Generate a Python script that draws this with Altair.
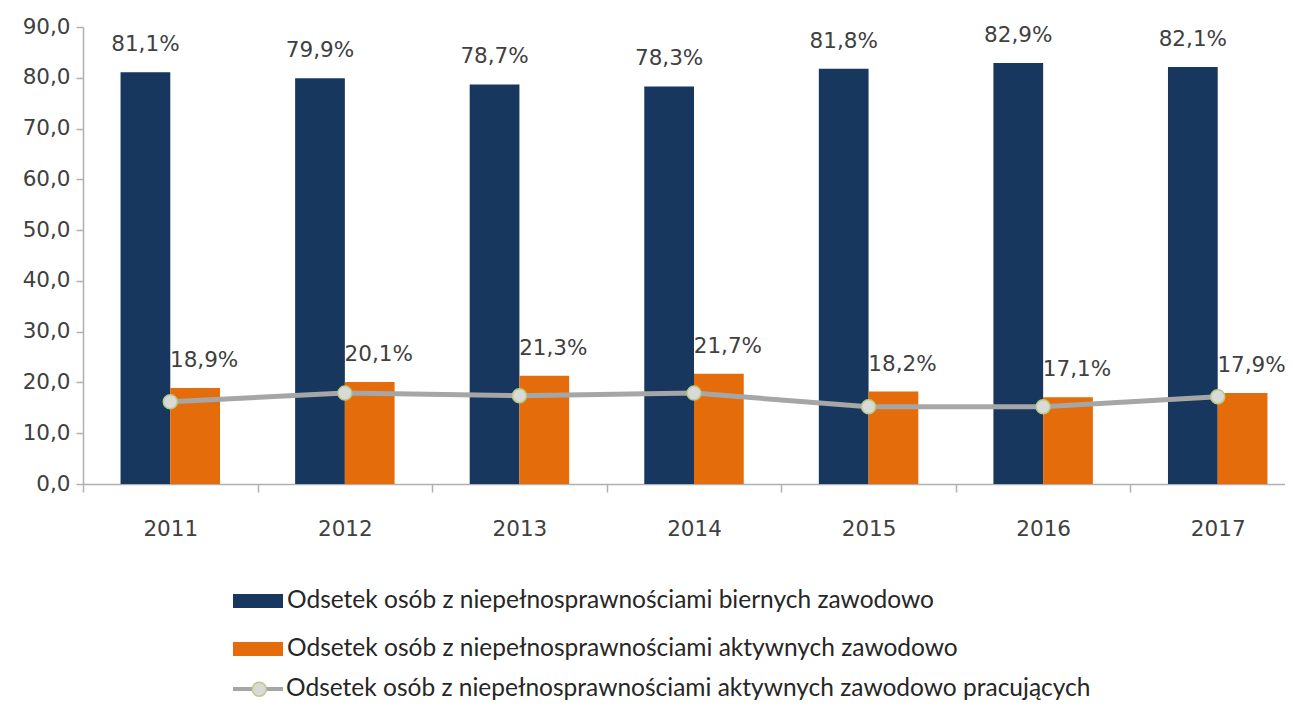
import altair as alt
import pandas as pd

years = ["2011", "2012", "2013", "2014", "2015", "2016", "2017"]
bierni = [81.1, 79.9, 78.7, 78.3, 81.8, 82.9, 82.1]
aktywni = [18.9, 20.1, 21.3, 21.7, 18.2, 17.1, 17.9]
pracujacy = [16.2, 17.9, 17.4, 17.9, 15.2, 15.2, 17.2]
series_names = [
    "Odsetek osób z niepełnosprawnościami biernych zawodowo",
    "Odsetek osób z niepełnosprawnościami aktywnych zawodowo",
    "Odsetek osób z niepełnosprawnościami aktywnych zawodowo pracujących",
]
bar_colors = ["#17375E", "#E46C0A"]
y_ticks = [0, 10, 20, 30, 40, 50, 60, 70, 80, 90]

bars_df = pd.DataFrame(
    {
        "year": years * 2,
        "series": [series_names[0]] * len(years) + [series_names[1]] * len(years),
        "value": bierni + aktywni,
    }
)
line_df = pd.DataFrame(
    {"year": years, "series": series_names[2], "series_pt": series_names[2], "value": pracujacy}
)

FONT = "DejaVu Sans"
LEG_FONT = "Lato"
TXT = "#404040"
LEG_SIZE = 24.5

x_enc = alt.X(
    "year:N",
    scale=alt.Scale(domain=years, range=[0, 1222], paddingInner=0, paddingOuter=0),
    axis=alt.Axis(
        title=None,
        labelAngle=0,
        labelFont=FONT,
        labelFontSize=21.5,
        labelColor=TXT,
        labelPadding=26,
        tickSize=8,
        tickBand="extent",
        domainColor="#B0B0B0",
        tickColor="#B0B0B0",
        domainWidth=1.5,
        tickWidth=1.5,
    ),
)
y_scale = alt.Scale(domain=[0, 90], nice=False)
y_axis = alt.Axis(
    title=None,
    values=y_ticks,
    labelExpr="replace(format(datum.value, '.1f'), '.', ',')",
    labelFont=FONT,
    labelFontSize=21.5,
    labelColor=TXT,
    labelPadding=6,
    tickSize=7,
    grid=False,
    domainColor="#B0B0B0",
    tickColor="#B0B0B0",
    domainWidth=1.5,
    tickWidth=1.5,
)
xoff = alt.XOffset(
    "series:N",
    scale=alt.Scale(domain=series_names[:2], paddingInner=0, paddingOuter=0.755),
)

base = alt.Chart(bars_df).encode(x=x_enc, xOffset=xoff)

bars = base.mark_bar().encode(
    y=alt.Y("value:Q", scale=y_scale, axis=y_axis),
    color=alt.Color(
        "series:N",
        scale=alt.Scale(domain=series_names[:2], range=bar_colors),
        legend=alt.Legend(
            title=None,
            orient="none",
            legendX=150,
            legendY=549,
            direction="vertical",
            symbolType="M-1,-0.28H1V0.28H-1Z",
            symbolSize=2500,
            symbolStrokeWidth=0,
            labelFont=LEG_FONT,
            labelFontSize=LEG_SIZE,
            labelColor="#262626",
            labelOffset=4,
            labelLimit=900,
            rowPadding=11,
            padding=0,
        ),
    ),
)

label_expr = "replace(format(datum.value, '.1f'), '.', ',') + '%'"
txt_navy = (
    base.transform_filter(alt.datum.series == series_names[0])
    .transform_calculate(label=label_expr)
    .mark_text(font=FONT, fontSize=21.5, color=TXT, dy=-27, baseline="middle")
    .encode(y=alt.Y("value:Q", scale=y_scale), text="label:N")
)
txt_orange = (
    base.transform_filter(alt.datum.series == series_names[1])
    .transform_calculate(label=label_expr)
    .mark_text(font=FONT, fontSize=21.5, color=TXT, dy=-27, dx=9, baseline="middle")
    .encode(y=alt.Y("value:Q", scale=y_scale), text="label:N")
)

line_base = alt.Chart(line_df).encode(x=x_enc, y=alt.Y("value:Q", scale=y_scale))
line = line_base.mark_line(strokeWidth=5).encode(
    stroke=alt.Stroke(
        "series:N",
        scale=alt.Scale(range=["#A6A6A6"]),
        legend=alt.Legend(
            title=None,
            orient="none",
            legendX=148,
            legendY=635,
            symbolType="stroke",
            symbolSize=2500,
            symbolStrokeWidth=4,
            labelFont=LEG_FONT,
            labelFontSize=LEG_SIZE,
            labelColor="#262626",
            labelOffset=1,
            labelLimit=900,
            padding=0,
        ),
    )
)
points = line_base.mark_point(
    filled=True, size=196, stroke="#B7CC82", strokeWidth=1.5, opacity=1
).encode(
    fill=alt.Fill(
        "series_pt:N",
        scale=alt.Scale(range=["#D9D9D9"]),
        legend=alt.Legend(
            title=None,
            orient="none",
            legendX=164,
            legendY=650,
            symbolType="circle",
            symbolSize=196,
            symbolStrokeColor="#B7CC82",
            symbolStrokeWidth=1.5,
            labelFont=LEG_FONT,
            labelFontSize=LEG_SIZE,
            labelExpr="''",
            labelLimit=900,
            padding=0,
        ),
    )
)

chart = (
    alt.layer(bars, line, points, txt_navy, txt_orange)
    .properties(
        width=1202,
        height=457,
        background="white",
        autosize=alt.AutoSizeParams(type="none"),
        padding={"left": 75, "top": 19, "right": 0, "bottom": 217},
    )
    .configure_view(stroke=None)
)

chart.save("out.html", embed_options={"renderer": "svg", "actions": False})
